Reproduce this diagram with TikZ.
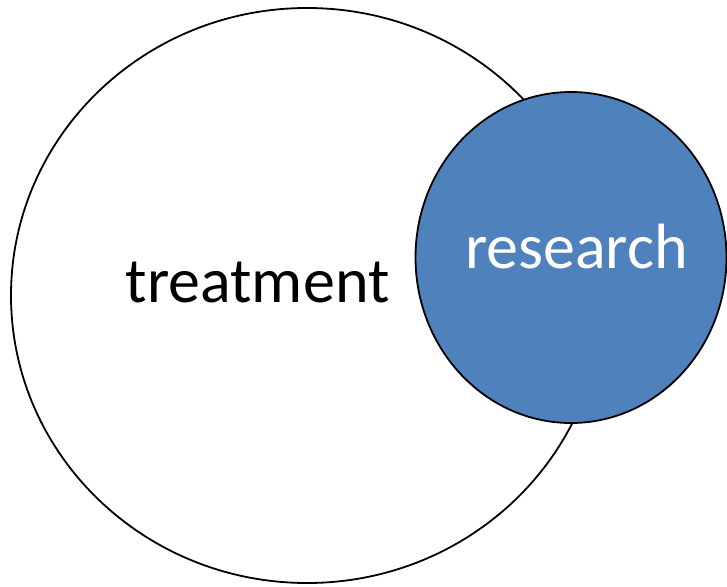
\documentclass[tikz,border=0pt]{standalone}
\usepackage{fontspec}
\setmainfont{Carlito}
\usepackage{tikz}
\usetikzlibrary{shapes.geometric}

\begin{document}
\begin{tikzpicture}[x=1pt,y=-1pt,line width=1.8pt,
      blob/.style={ellipse,draw,inner sep=0pt},
      word/.style={anchor=base,inner sep=0pt,font=\fontsize{64}{76}\selectfont}]
        \useasboundingbox (0,0) rectangle (727,586);
        \node[blob,minimum width=592pt,minimum height=575pt] (treat) at (307,295.5) {};
        \node[blob,fill={rgb,255:red,79;green,129;blue,189},
              minimum width=311pt,minimum height=331pt] (res) at (571,257.5) {};
        \node[word] (treatlbl) at (257.5,302) {treatment};
        \node[word,text=white] (reslbl) at (576.5,268) {research};
    \end{tikzpicture}
\end{document}
